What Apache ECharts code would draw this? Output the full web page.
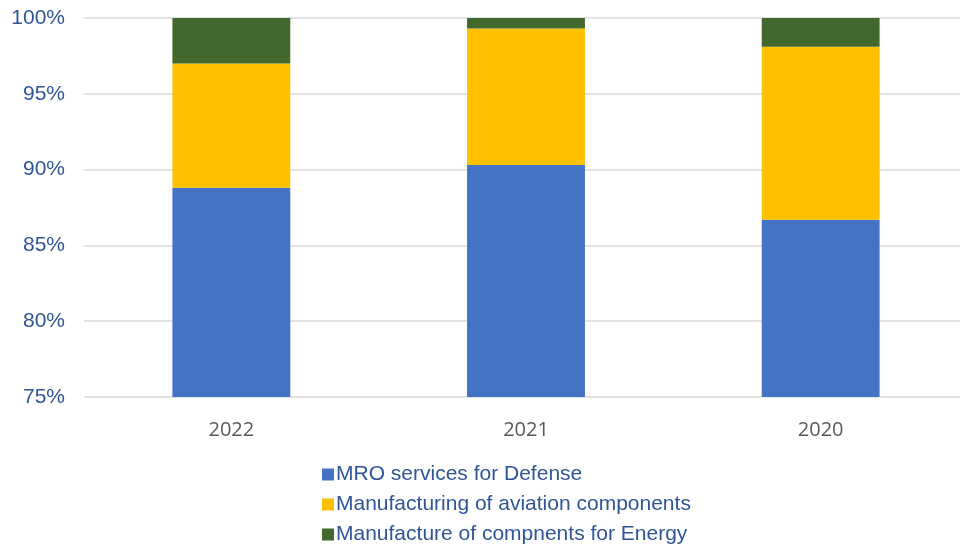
<!DOCTYPE html>
<html>
<head>
<meta charset="utf-8">
<script src="https://cdn.jsdelivr.net/npm/echarts@6/dist/echarts.min.js"></script>
<style>
  html, body { margin: 0; padding: 0; background: #fff; }
  #main { width: 960px; height: 552px; }
</style>
</head>
<body>
<div id="main"></div>
<script>
// data (percent share by year)
var years = ['2022', '2021', '2020'];
var mroDefense = [88.8, 90.3, 86.7];
var aviationParts = [8.2, 9.0, 11.4];
var energyParts = [3.0, 0.7, 1.9];
var seriesNames = ['MRO services for Defense', 'Manufacturing of aviation components', 'Manufacture of compnents for Energy'];

var myChart = echarts.init(document.getElementById('main'));

var labelBlue = '#2F5597';

var option = {
    animation: false,
    color: ['#4472C4', '#FFC000', '#43682B'],
    grid: {
        left: 84,
        width: 884,
        top: 18,
        bottom: 155,
        outerBoundsMode: 'none'
    },
    legend: {
        orient: 'vertical',
        left: 317,
        top: 459,
        height: 100,
        itemWidth: 12,
        itemHeight: 12,
        itemGap: 9,
        icon: 'rect',
        textStyle: {
            color: labelBlue,
            fontSize: 21,
            fontFamily: 'Liberation Sans',
            padding: [0, 0, 0, -3]
        },
        data: seriesNames
    },
    xAxis: {
        type: 'category',
        data: years,
        axisTick: { show: false },
        axisLine: { show: false },
        axisLabel: {
            color: '#595959',
            fontSize: 20,
            fontFamily: 'Open Sans',
            margin: 23
        }
    },
    yAxis: {
        type: 'value',
        min: 75,
        max: 100,
        interval: 5,
        axisLine: { show: false },
        axisTick: { show: false },
        axisLabel: {
            color: labelBlue,
            fontSize: 21,
            fontFamily: 'Liberation Sans',
            margin: 19,
            formatter: '{value}%'
        },
        splitLine: {
            lineStyle: { color: '#d9d9d9', width: 1.5 }
        }
    },
    series: []
};

var seriesData = [mroDefense, aviationParts, energyParts];
var list = [];
for (var i = 0; i < seriesNames.length; i++) {
    list.push({
        name: seriesNames[i],
        type: 'bar',
        stack: 'total',
        barWidth: '40%',
        data: seriesData[i]
    });
}
option.series = list;

myChart.setOption(option);
</script>
</body>
</html>
